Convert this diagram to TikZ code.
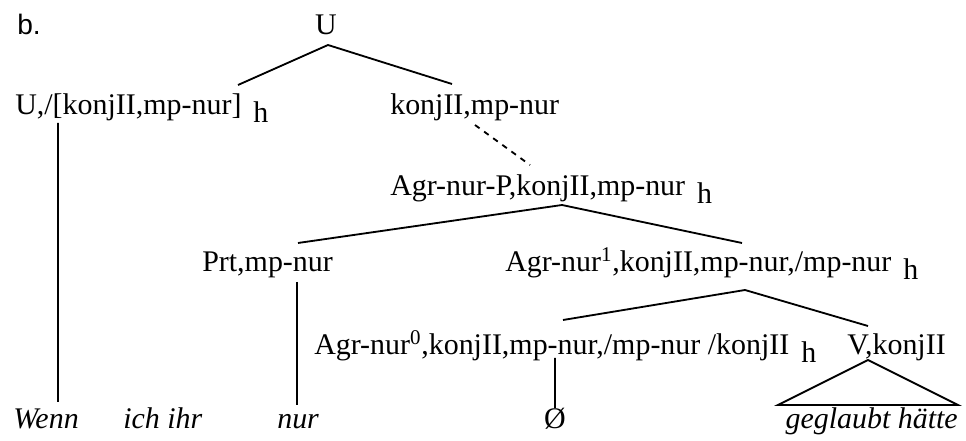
\documentclass[tikz,border=0pt]{standalone}
\usepackage{fontspec}
\setmainfont{Liberation Serif}
\newfontfamily\labelfont{Liberation Sans}
\newcommand{\hsub}{\hspace{0.4em}\raisebox{-0.25em}{h}}
\tikzset{
    cat/.style={inner sep=0pt, anchor=base west, font=\fontsize{21.3}{25}\selectfont},
    word/.style={cat, font=\fontsize{21.3}{25}\selectfont\itshape},
    branch/.style={line width=1.3pt},
}
\begin{document}
\begin{tikzpicture}
    \useasboundingbox (0,0) rectangle (24.15,11.025);

    % Beispielnummer
    \node[cat, font=\fontsize{20}{24}\labelfont] (lbl) at (0.425,10.15) {b.};

    % Kategorien
    \node[cat, anchor=base] (U) at (8.15,10.15) {U};
    \node[cat] (Uh) at (0.375,8.15) {U,/[konjII,mp-nur]\hsub};
    \node[cat] (kp) at (9.75,8.15) {konjII,mp-nur};
    \node[cat] (agrP) at (9.75,6.125) {Agr-nur-P,konjII,mp-nur\hsub};
    \node[cat] (prt) at (5.05,4.225) {Prt,mp-nur};
    \node[cat] (agr1) at (12.625,4.225) {Agr-nur\textsuperscript{1},konjII,mp-nur,/mp-nur\hsub};
    \node[cat] (agr0) at (7.85,2.15) {Agr-nur\textsuperscript{0},konjII,mp-nur,/mp-nur /konjII\hsub};
    \node[cat] (vk) at (21.175,2.15) {V,konjII};

    % Woerter
    \node[word] (wenn) at (0.325,0.3) {Wenn};
    \node[word] (ichihr) at (3.075,0.3) {ich ihr};
    \node[word] (nur) at (6.925,0.3) {nur};
    \node[cat, anchor=base] (null) at (13.875,0.3) {Ø};
    \node[word, anchor=base east] (gh) at (23.95,0.3) {geglaubt hätte};

    % Aeste
    \draw[branch] ([shift={(5.575,0.75)}]Uh.base west) -- ([shift={(0.05,-0.25)}]U.base)
        -- ([shift={(1.55,0.775)}]kp.base west);
    \draw[branch] ([shift={(1.075,-0.2)}]Uh.base west) -- ([shift={(1.125,0.675)}]wenn.base west);
    \draw[branch, dash pattern=on 4pt off 4pt] ([shift={(2.125,-0.25)}]kp.base west)
        -- ([shift={(3.5,0.775)}]agrP.base west);
    \draw[branch] ([shift={(2.4,0.725)}]prt.base west) -- ([shift={(4.3,-0.225)}]agrP.base west)
        -- ([shift={(5.925,0.725)}]agr1.base west);
    \draw[branch] ([shift={(2.375,-0.25)}]prt.base west) -- ([shift={(0.5,0.6)}]nur.base west);
    \draw[branch] ([shift={(6.225,0.875)}]agr0.base west) -- ([shift={(6.0,-0.45)}]agr1.base west)
        -- ([shift={(0.525,0.725)}]vk.base west);
    \draw[branch] ([shift={(6.025,-0.075)}]agr0.base west) -- ([shift={(0,0.525)}]null.base);

    % Dreieck ueber V
    \draw[branch] ([shift={(0.525,-0.125)}]vk.base west) -- ([shift={(-4.5,0.6)}]gh.base east)
        -- ([shift={(0,0.6)}]gh.base east) -- cycle;
\end{tikzpicture}
\end{document}
